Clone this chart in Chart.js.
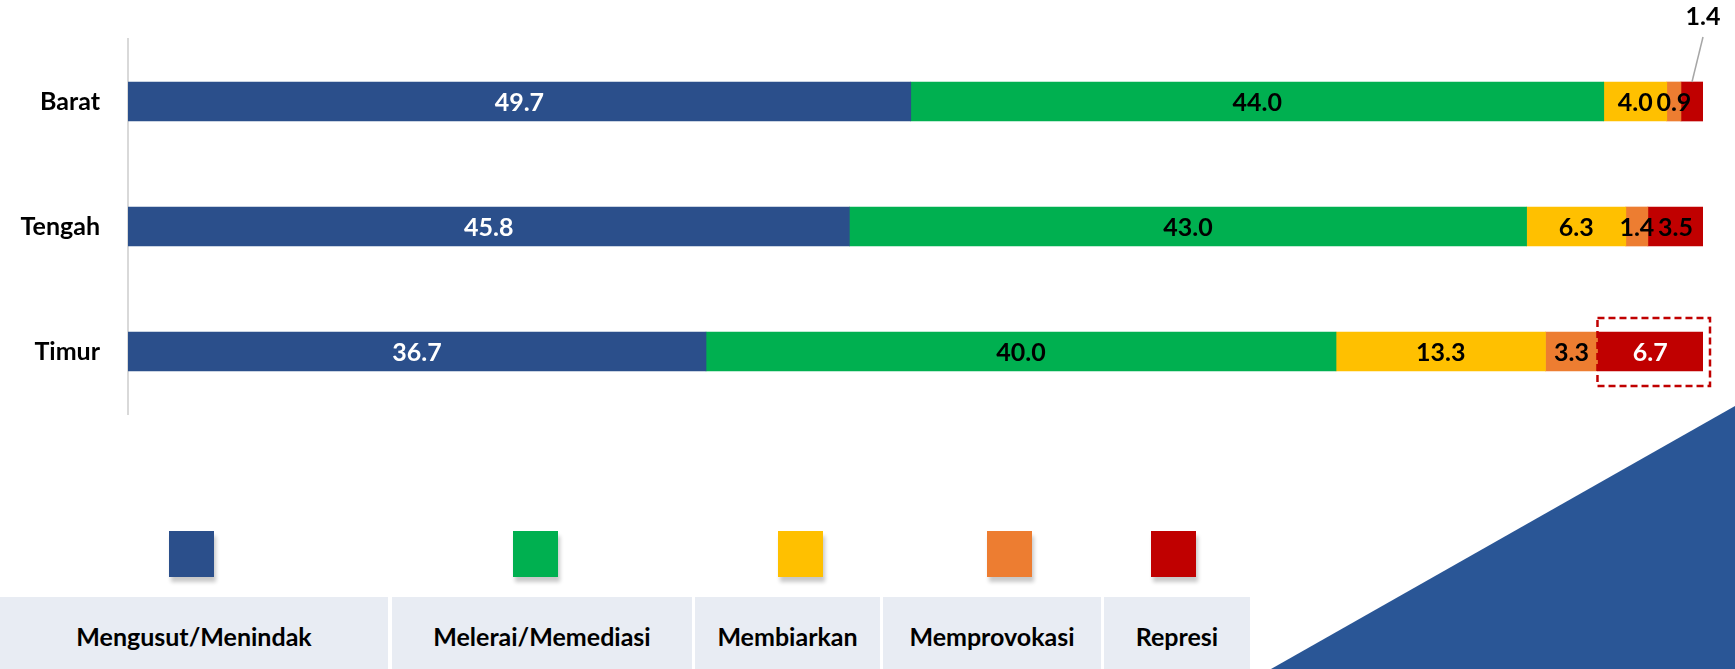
<!DOCTYPE html>
<html>
<head>
<meta charset="utf-8">
<script src="https://cdn.jsdelivr.net/npm/chart.js@4/dist/chart.umd.min.js"></script>
<style>
    body { margin: 0; background: #fff; font-family: Lato, sans-serif; }
    #wrap { position: relative; width: 1735px; height: 669px; overflow: hidden; }
    #grafik { position: absolute; left: 0; top: 0; }
    .kotak {
        position: absolute; top: 531px; width: 45px; height: 46px;
        box-shadow: 2px 5px 4px rgba(0, 0, 0, 0.22);
    }
    .sel {
        position: absolute; top: 597px; height: 72px; background: #E8ECF3;
        display: flex; align-items: center; justify-content: center;
        font-weight: bold; font-size: 25px; color: #000; padding-top: 6px; box-sizing: border-box;
    }
    #segitiga {
        position: absolute; left: 1271px; top: 406px; width: 464px; height: 263px;
        background: #2A5696; clip-path: polygon(0 100%, 100% 0, 100% 100%);
    }
</style>
</head>
<body>
<div id="wrap">
    <canvas id="grafik" width="1735" height="440"></canvas>
    <div id="legenda"></div>
    <div id="segitiga"></div>
</div>
<script>
const kategori = ['Barat', 'Tengah', 'Timur'];
const namaSeri = ['Mengusut/Menindak', 'Melerai/Memediasi', 'Membiarkan', 'Memprovokasi', 'Represi'];

const mengusut = [49.7, 45.8, 36.7];
const melerai = [44.0, 43.0, 40.0];
const membiarkan = [4.0, 6.3, 13.3];
const memprovokasi = [0.9, 1.4, 3.3];
const represi = [1.4, 3.5, 6.7];

const warnaSeri = ['#2B4F8B', '#00B050', '#FFC000', '#ED7D31', '#C00000'];
// warna teks label per seri, per wilayah
const warnaLabel = [
    ['#fff', '#fff', '#fff'],
    ['#000', '#000', '#000'],
    ['#000', '#000', '#000'],
    ['#000', '#000', '#000'],
    ['#000', '#000', '#fff']
];

const labelSegmen = {
    id: 'labelSegmen',
    afterDatasetsDraw(chart) {
        const ctx = chart.ctx;
        ctx.save();
        ctx.font = 'bold 25px Lato';
        ctx.textAlign = 'center';
        ctx.textBaseline = 'middle';
        chart.data.datasets.forEach((ds, di) => {
            chart.getDatasetMeta(di).data.forEach((bar, i) => {
                const teks = ds.data[i].toFixed(1);
                const cx = (bar.x + bar.base) / 2;
                const atas = bar.y - bar.height / 2;
                // Barat represi terlalu sempit: label di atas dengan garis penunjuk
                if (di === 4 && i === 0) {
                    ctx.strokeStyle = '#A6A6A6';
                    ctx.lineWidth = 1.5;
                    ctx.beginPath();
                    ctx.moveTo(cx, atas);
                    ctx.lineTo(bar.x, atas - 45);
                    ctx.stroke();
                    ctx.fillStyle = '#000';
                    ctx.fillText(teks, bar.x, atas - 65);
                    return;
                }
                ctx.fillStyle = warnaLabel[di][i];
                ctx.fillText(teks, cx, bar.y + 1);
            });
        });

        // kotak putus-putus di represi Timur
        const el = chart.getDatasetMeta(4).data[2];
        ctx.strokeStyle = '#C00000';
        ctx.lineWidth = 2.5;
        ctx.setLineDash([7, 4]);
        ctx.strokeRect(el.base, el.y - el.height / 2 - 14, el.x - el.base + 7, el.height + 29);
        ctx.restore();
    }
};

const dataSeri = [mengusut, melerai, membiarkan, memprovokasi, represi];

new Chart(document.getElementById('grafik'), {
    type: 'bar',
    data: {
        labels: kategori,
        datasets: dataSeri.map((d, i) => ({
            label: namaSeri[i],
            data: d,
            backgroundColor: warnaSeri[i],
            borderWidth: 0,
            barThickness: 39
        }))
    },
    options: {
        indexAxis: 'y',
        responsive: false,
        animation: false,
        devicePixelRatio: 1,
        layout: { padding: { top: 39, right: 32, bottom: 26, left: 0 } },
        plugins: { legend: { display: false }, tooltip: { enabled: false } },
        scales: {
            x: { stacked: true, min: 0, max: 100, display: false },
            y: {
                stacked: true,
                grid: { display: false, drawTicks: false },
                border: { display: true, color: '#D9D9D9', width: 2 },
                ticks: { color: '#000', padding: 28, font: { family: 'Lato', size: 25, weight: 'bold' } },
                afterFit(scale) {
                    scale.width = 128;
                    scale.paddingTop = 0;
                    scale.paddingBottom = 0;
                }
            }
        }
    },
    plugins: [labelSegmen]
});

// legenda: kotak warna dan sel nama di bawahnya
const kiriKotak = [169, 513, 778, 987, 1151];
const kiriSel = [0, 392, 695, 883, 1104];
const lebarSel = [388, 300, 185, 218, 146];
const legenda = document.getElementById('legenda');
namaSeri.forEach((nama, i) => {
    const kotak = document.createElement('div');
    kotak.className = 'kotak';
    kotak.style.left = kiriKotak[i] + 'px';
    kotak.style.background = warnaSeri[i];
    legenda.appendChild(kotak);

    const sel = document.createElement('div');
    sel.className = 'sel';
    sel.style.left = kiriSel[i] + 'px';
    sel.style.width = lebarSel[i] + 'px';
    sel.textContent = nama;
    legenda.appendChild(sel);
});
</script>
</body>
</html>
